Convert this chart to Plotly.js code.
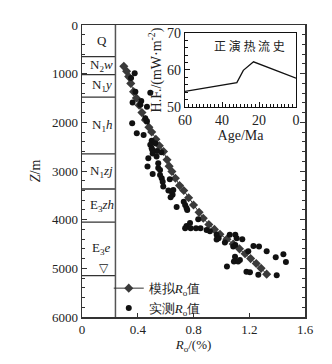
<!DOCTYPE html>
<html>
<head>
<meta charset="utf-8">
<script src="https://cdn.plot.ly/plotly-3.0.1.min.js"></script>
<style>html,body{margin:0;padding:0;background:#fff;}#chart{width:332px;height:364px;}</style>
</head>
<body>
<div id="chart"></div>
<script>
// Modelled Ro (diamonds) : depth (m) and Ro (%)
const modelDepth = [850, 950, 1060, 1200, 1370, 1500, 1650, 1800, 1950, 2100, 2200, 2350, 2480, 2600, 2770, 2900, 3010, 3150, 3300, 3400, 3550, 3700, 3850, 3970, 4100, 4200, 4300, 4400, 4500, 4600, 4700, 4800, 4900, 5000, 5120];
const modelRo    = [0.30, 0.32, 0.335, 0.35, 0.37, 0.39, 0.41, 0.43, 0.455, 0.48, 0.50, 0.53, 0.555, 0.585, 0.61, 0.625, 0.645, 0.67, 0.70, 0.73, 0.765, 0.80, 0.84, 0.87, 0.91, 0.95, 0.99, 1.04, 1.085, 1.13, 1.17, 1.21, 1.25, 1.285, 1.325];

// Measured Ro (circles)
const measDepth = [993, 1090, 1370, 1390, 1560, 1590, 1640, 1680, 1916, 1985, 2020, 2225, 2260, 2380, 2430, 2460, 2530, 2570, 2590, 2615, 2640, 2700, 2740, 2840, 2910, 2940, 2980, 3060, 3080, 3150, 3170, 3220, 3320, 3390, 3400, 3420, 3490, 3540, 3630, 3700, 3740, 3760, 3800, 3990, 4070, 4130, 4175, 4175, 4175, 4175, 4210, 4240, 4310, 4380, 4410, 4470, 4310, 4310, 4380, 4400, 4520, 4540, 4550, 4550, 4650, 4650, 4710, 4770, 4760, 4830, 4860, 4870, 4860, 4960, 5070, 5080, 5130, 5140];
const measRo    = [0.378, 0.352, 0.383, 0.49, 0.425, 0.363, 0.418, 0.466, 0.454, 0.466, 0.36, 0.393, 0.442, 0.50, 0.526, 0.49, 0.50, 0.505, 0.538, 0.569, 0.507, 0.535, 0.476, 0.547, 0.470, 0.547, 0.56, 0.507, 0.56, 0.572, 0.63, 0.579, 0.583, 0.655, 0.62, 0.643, 0.65, 0.636, 0.73, 0.74, 0.679, 0.75, 0.755, 0.834, 0.775, 0.75, 0.74, 0.78, 0.818, 0.85, 0.894, 0.918, 0.966, 0.98, 0.966, 1.025, 1.06, 1.10, 1.11, 1.15, 1.10, 1.23, 1.27, 1.085, 1.193, 1.325, 1.445, 1.39, 1.098, 1.133, 1.09, 1.463, 1.12, 1.04, 1.18, 1.205, 1.265, 1.397];

// Heat flow history (inset)
const hfAge = [60, 32, 28.5, 23, 8.5, 0];
const hfVal = [54.2, 56.6, 59.9, 62.2, 59.4, 57.8];

// Strata column
const strataNames = ['Q', 'N<sub>2</sub><i>w</i>', 'N<sub>1</sub><i>y</i>', 'N<sub>1</sub><i>h</i>', 'N<sub>1</sub><i>zj</i>', 'E<sub>3</sub><i>zh</i>', 'E<sub>3</sub><i>e</i>'];
const strataTops    = [0, 650, 1020, 1480, 2650, 3370, 4050];
const strataBottoms = [650, 1020, 1480, 2650, 3370, 4050, 5150];
const wellBottom = 5000;

const xTicks = [0, 0.4, 0.8, 1.2, 1.6];
const xTickText = ['0', '0.4', '0.8', '1.2', '1.6'];
const yTicks = [0, 1000, 2000, 3000, 4000, 5000, 6000];

const SERIF = 'Liberation Serif';
const CJK = 'Liberation Serif';
const COLW = 0.24;
const AX = '#333';

const traces = [
  {x: modelRo, y: modelDepth, xaxis: 'x', yaxis: 'y', type: 'scatter', mode: 'lines+markers',
   name: '模拟<i>R</i><sub>o</sub>值',
   line: {color: '#333', width: 1},
   marker: {symbol: 'diamond', size: 7, color: '#3a3a3a'}},
  {x: measRo, y: measDepth, xaxis: 'x', yaxis: 'y', type: 'scatter', mode: 'markers',
   name: '实测<i>R</i><sub>o</sub>值',
   marker: {symbol: 'circle', size: 6, color: '#111'}},
  {x: hfAge, y: hfVal, xaxis: 'x2', yaxis: 'y2', type: 'scatter', mode: 'lines',
   showlegend: false, line: {color: '#111', width: 1.3}}
];

const shapes = [];
strataBottoms.forEach(d => {
  shapes.push({type: 'line', xref: 'x', yref: 'y', x0: 0, x1: COLW, y0: d, y1: d,
               line: {color: AX, width: 1.3}});
});
shapes.push({type: 'line', xref: 'x', yref: 'y', x0: COLW, x1: COLW, y0: 0, y1: 6000,
             line: {color: '#555', width: 1.5}});
shapes.push({type: 'rect', xref: 'x2 domain', yref: 'y2 domain', x0: 0, x1: 1, y0: 0, y1: 1,
             fillcolor: '#fff', line: {width: 0}, layer: 'below'});

const annotations = strataNames.map((n, i) => ({
  x: 0.14, y: (strataTops[i] + strataBottoms[i]) / 2, xref: 'x', yref: 'y',
  text: n, showarrow: false, font: {family: SERIF, size: 13, color: '#222'}
}));
annotations.push({x: 0.16, y: wellBottom, xref: 'x', yref: 'y', text: '▽', showarrow: false,
  font: {family: 'DejaVu Sans', size: 12, color: '#222'}});
annotations.push({x: 0.92, y: 0.97, xref: 'x2 domain', yref: 'y2 domain', xanchor: 'right', yanchor: 'top',
  text: '正 演 热 流 史', showarrow: false, font: {family: 'Noto Sans CJK SC', size: 12, color: '#222'}});

const layout = {
  width: 332, height: 364,
  margin: {l: 82, r: 27, t: 25, b: 47},
  paper_bgcolor: '#fff', plot_bgcolor: '#fff',
  font: {family: SERIF, size: 12, color: '#222'},
  showlegend: true,
  legend: {x: 0.12, y: 0.15, xanchor: 'left', yanchor: 'top', bgcolor: 'rgba(0,0,0,0)',
           font: {family: SERIF, size: 13, color: '#222'}, itemwidth: 30, tracegroupgap: 0},
  xaxis: {range: [0, 1.6], tickvals: xTicks, ticktext: xTickText, ticks: 'inside', ticklen: 4,
          tickcolor: AX, showline: true, linecolor: AX, linewidth: 1.5, mirror: true,
          showgrid: false, zeroline: false, tickfont: {family: SERIF, size: 13},
          title: {text: '<i>R</i><sub>o</sub>/(%)', font: {family: SERIF, size: 13}, standoff: 2}},
  yaxis: {range: [6000, 0], tickvals: yTicks, ticks: 'inside', ticklen: 5, tickcolor: AX,
          minor: {dtick: 200, ticks: 'inside', ticklen: 3, tickcolor: AX, showgrid: false},
          showline: true, linecolor: AX, linewidth: 1.5, mirror: 'ticks',
          showgrid: false, zeroline: false, tickfont: {family: SERIF, size: 13},
          title: {text: '<i>Z</i>/m', font: {family: SERIF, size: 14}, standoff: 8}},
  xaxis2: {domain: [0.462, 0.96], anchor: 'y2', range: [60, 0], tickvals: [60, 40, 20, 0],
           ticks: 'inside', ticklen: 5, tickcolor: '#111',
           minor: {dtick: 2, ticks: 'inside', ticklen: 3, tickcolor: '#111'},
           showline: true, linecolor: '#111', linewidth: 1.3, mirror: true,
           showgrid: false, zeroline: false, tickfont: {family: SERIF, size: 14},
           title: {text: 'Age/Ma', font: {family: SERIF, size: 14}, standoff: 0}},
  yaxis2: {domain: [0.719, 0.973], anchor: 'x2', range: [50, 70], tickvals: [50, 60, 70],
           ticks: 'inside', ticklen: 5, tickcolor: '#111',
           minor: {dtick: 2, ticks: 'inside', ticklen: 3, tickcolor: '#111'},
           showline: true, linecolor: '#111', linewidth: 1.3, mirror: true,
           showgrid: false, zeroline: false, tickfont: {family: SERIF, size: 14},
           title: {text: 'H.F./(mW·m<sup>-2</sup>)', font: {family: SERIF, size: 14}, standoff: 2}},
  shapes: shapes,
  annotations: annotations
};

Plotly.newPlot('chart', traces, layout, {displayModeBar: false, staticPlot: true});
</script>
</body>
</html>
